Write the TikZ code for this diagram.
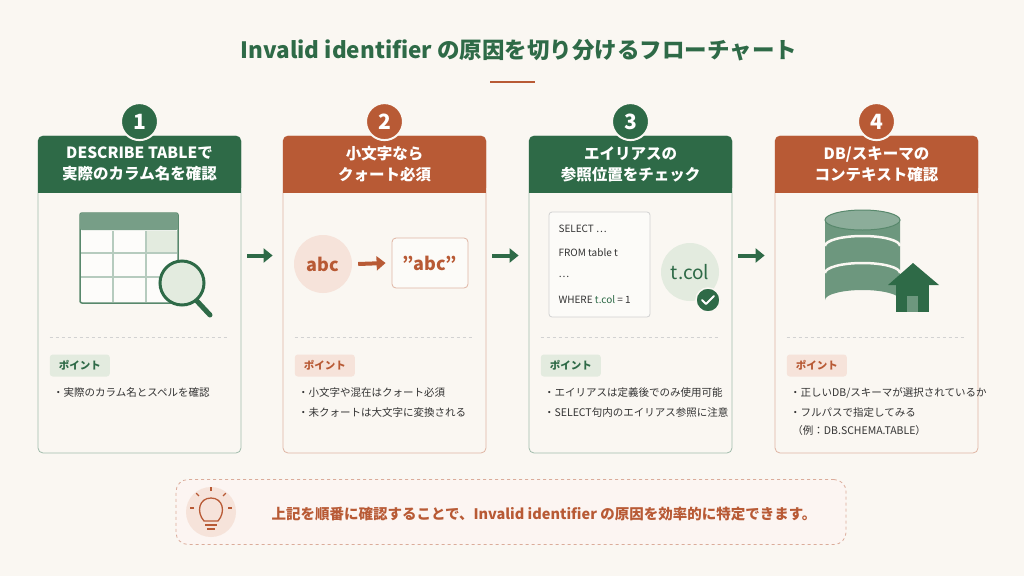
\documentclass[tikz,border=0pt]{standalone}
\usepackage{fontspec}
\setmainfont{Noto Sans CJK JP}
\usepackage{tikz}
\usetikzlibrary{positioning, arrows.meta, calc}
\definecolor{bg}{HTML}{FAF7F2}
\definecolor{grn}{HTML}{2E6A47}
\definecolor{org}{HTML}{B85A35}
\definecolor{grnl}{HTML}{E3EBDF}
\definecolor{orgl}{HTML}{F6E3DA}
\definecolor{txt}{HTML}{333333}
\tikzset{
  card/.style={
    rectangle,
    rounded corners=5pt,
    minimum width=203pt,
    minimum height=317pt,
    draw=#1!45,
    line width=0.8pt,
    fill=bg
    },
  head/.style={
    rectangle,
    rounded corners=5pt,
    minimum width=203pt,
    minimum height=57pt,
    align=center,
    font=\bfseries\fontsize{15.5}{21}\selectfont,
    text=white,
    fill=#1
    },
  num/.style={
    circle,
    minimum size=37pt,
    draw=bg,
    line width=2pt,
    fill=#1,
    text=white,
    font=\bfseries\fontsize{21}{21}\selectfont
    },
  tag/.style={
    rectangle,
    rounded corners=3pt,
    minimum width=60pt,
    minimum height=22pt,
    font=\bfseries\fontsize{10.5}{10.5}\selectfont,
    fill=#1l,
    text=#1
    },
  bul/.style={
    anchor=west,
    font=\fontsize{10.5}{12}\selectfont,
    text=txt
    },
  code/.style={
    anchor=west,
    font=\fontsize{10}{10}\selectfont,
    text=txt
    },
  arrow/.style={line width=4pt,-{Triangle[length=9pt,width=14pt]},draw=#1},
  sep/.style={dashed,draw=gray!35,line width=0.6pt}
}
\begin{document}
\begin{tikzpicture}[x=1pt,y=-1pt]
\useasboundingbox (0,0) rectangle (1024,576);
\fill[bg] (0,0) rectangle (1024,576);
% title
\node (title) at (519,50) [font=\bfseries\fontsize{22.5}{22.5}\selectfont,text=grn] {Invalid identifier の原因を切り分けるフローチャート};
\draw[org,line width=1.5pt] (490,82) -- (535,82);
% cards
\foreach \i/\x/\c in {1/139.5/grn,2/384.5/org,3/630.5/grn,4/876.5/org}{
  \node (card\i) [card=\c] at (\x,294.5) {};
  \node (head\i) [head=\c,anchor=north] at (card\i.north) {};
  \fill[\c] ($(card\i.north west)+(0,40)$) rectangle ($(card\i.north east)+(0,57)$);
  \draw[sep] ($(card\i.west)+(12,43)$) -- ($(card\i.east)+(-12,43)$);
  \node (tag\i) [tag=\c,anchor=west] at ($(card\i.west)+(12,71)$) {ポイント};
  \node (num\i) [num=\c] at ($(card\i.north)+(0,-14)$) {\i};
}
\node at (head1) [head=grn,fill=none] {DESCRIBE TABLEで\\実際のカラム名を確認};
\node at (head2) [head=org,fill=none] {小文字なら\\クォート必須};
\node at (head3) [head=grn,fill=none] {エイリアスの\\参照位置をチェック};
\node at (head4) [head=org,fill=none] {DB/スキーマの\\コンテキスト確認};
% bullets
\node (b11) [bul] at ($(tag1.west)+(0,27)$) {・実際のカラム名とスペルを確認};
\node (b21) [bul] at ($(tag2.west)+(0,27)$) {・小文字や混在はクォート必須};
\node (b22) [bul,below=3pt of b21.south west,anchor=north west] {・未クォートは大文字に変換される};
\node (b31) [bul] at ($(tag3.west)+(0,27)$) {・エイリアスは定義後でのみ使用可能};
\node (b32) [bul,below=3pt of b31.south west,anchor=north west] {・SELECT句内のエイリアス参照に注意};
\node (b41) [bul] at ($(tag4.west)+(0,27)$) {・正しいDB/スキーマが選択されているか};
\node (b42) [bul,below=3pt of b41.south west,anchor=north west] {・フルパスで指定してみる};
\node (b43) [bul,below=1pt of b42.south west,anchor=north west] {\ （例：DB.SCHEMA.TABLE）};
% arrows between cards
\foreach \a/\b in {1/2,2/3,3/4}{
  \coordinate (s\a) at ($(card\a.east)+(6,-39)$);
  \coordinate (e\a) at ($(card\b.west)+(-10,-39)$);
  \draw[arrow=grn] (s\a) -- (e\a);
}
% card 1 icon: table with magnifier
\draw[grn!80,line width=1.5pt,rounded corners=2pt,fill=white!60!bg] (80,213) rectangle (178,303);
\fill[grn!65,rounded corners=2pt] (80,213) rectangle (178,230);
\fill[grnl] (146,231) rectangle (177,253);
\foreach \y in {253,277}{\draw[grn!35,line width=1.5pt] (81,\y) -- (177,\y);}
\foreach \x in {113,146}{\draw[grn!35,line width=1.5pt] (\x,231) -- (\x,302);}
\draw[grn,line width=5pt,line cap=round] (196,300) -- (210,315);
\node (lens) [circle,minimum size=44pt,draw=grn,line width=3pt,fill=grnl] at (182,283) {};
% card 2 icon
\node (low) [circle,minimum size=58pt,fill=orgl,text=org,font=\bfseries\fontsize{18}{18}\selectfont] at (323,264) {abc};
\node (quo) [rectangle,rounded corners=4pt,minimum width=76pt,minimum height=50pt,draw=org!45,line width=0.8pt,fill=white!50!bg,text=org,font=\bfseries\fontsize{18}{18}\selectfont] at (430,263) {\char34 abc\char34};
\coordinate (la) at ($(low.east)+(6,0)$);
\coordinate (qa) at ($(quo.west)+(-6,0)$);
\draw[arrow=org] (la) -- (qa);
% card 3 icon
\node (codebox) [rectangle,rounded corners=3pt,minimum width=101pt,minimum height=105pt,draw=gray!35,line width=0.8pt,fill=white!50!bg] at (599.5,264.5) {};
\node (c1) [code] at (555,229) {SELECT \dots};
\node (c2) [code] at (555,253) {FROM table t};
\node (c3) [code] at (555,277) {\dots};
\node (c4) [code] at (555,300) {WHERE \textcolor{grn}{t.col} = 1};
\node (tcol) [circle,minimum size=58pt,fill=grnl,text=grn,font=\fontsize{19}{19}\selectfont] at (690,272) {t.col};
\node (chk) [circle,minimum size=24pt,fill=grn,draw=bg,line width=1.5pt] at (708,300) {};
\draw[white,line width=2pt,line cap=round,line join=round] (702,300) -- (706,304) -- (714,296);
% card 4 icon: database with house
\fill[grn!70] (825,220) -- (825,300) arc[start angle=180,end angle=360,x radius=37.5,y radius=10] -- (900,220) -- cycle;
\fill[grn!55] (862.5,220) ellipse[x radius=37.5,y radius=10];
\draw[grn!80,line width=1pt] (862.5,220) ellipse[x radius=37.5,y radius=10];
\foreach \y in {246,273}{\draw[bg,line width=2.5pt] (825,\y) arc[start angle=180,end angle=360,x radius=37.5,y radius=10];}
\fill[grn] (888,285) -- (913,263) -- (939,285) -- cycle;
\fill[grn] (896,284) rectangle (929,312);
\fill[grn!70] (907,296) rectangle (918,312);
% bottom note
\node (note) [rectangle,rounded corners=12pt,minimum width=670pt,minimum height=65pt,draw=org!50,dashed,line width=0.8pt,fill=orgl!35] at (511,512) {};
\node (bulb) [circle,minimum size=50pt,fill=orgl] at (211,512) {};
\draw[org,line width=1.3pt] (204,521) .. controls (196,512) and (199,498) .. (211,498) .. controls (223,498) and (226,512) .. (218,521) -- cycle;
\draw[org,line width=1.3pt] (205,525) -- (217,525) (207,529) -- (215,529);
\foreach \a in {90,45,135,0,180}{\draw[org,line width=1.3pt] ($(211,508)+(\a:-17)$) -- ($(211,508)+(\a:-21)$);}
\node (msg) [anchor=west,text=org,font=\bfseries\fontsize{14.5}{14.5}\selectfont] at (268,514) {上記を順番に確認することで、Invalid identifier の原因を効率的に特定できます。};
\end{tikzpicture}
\end{document}
